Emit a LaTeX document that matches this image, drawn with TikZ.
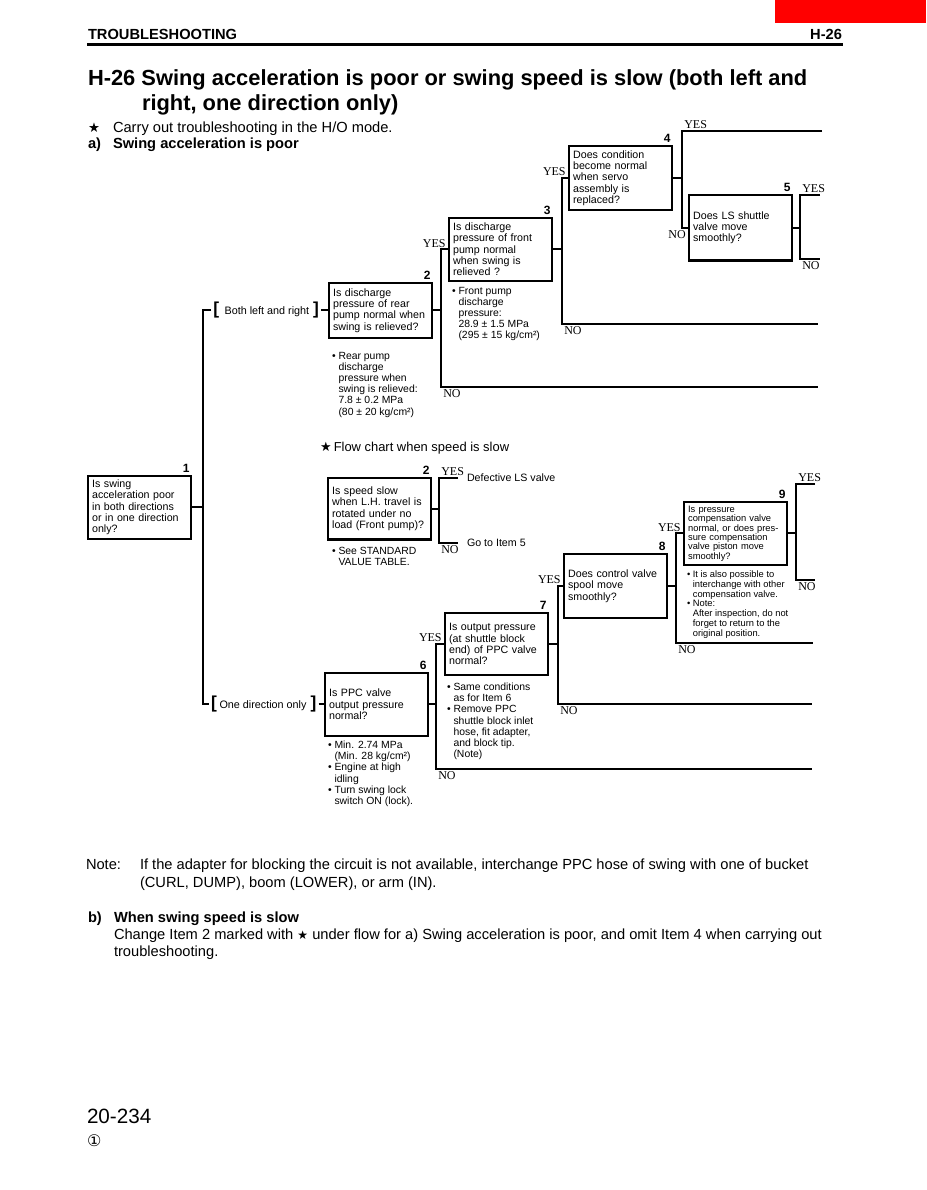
\documentclass[tikz,border=0pt]{standalone}
\usepackage{fontspec}
\setmainfont{Liberation Sans}
\newfontfamily\yesfont{Liberation Serif}
\newfontfamily\symfont{DejaVu Sans}
\usetikzlibrary{positioning}
\newcommand{\blt}{\textbullet\ }
\newcommand{\indt}{\phantom{\textbullet\ }}
\newcommand{\bigbrk}[1]{{\bfseries\fontsize{13}{13}\selectfont #1}}

\begin{document}
\begin{tikzpicture}[x=0.75pt, y=-0.75pt, line width=1.5pt,
  qbox/.style={draw, line width=1.7pt, anchor=north west, align=left, minimum width=77pt, minimum height=47pt,
    text width=71pt, inner xsep=3pt, inner ysep=2pt, font=\fontsize{8}{8.5}\selectfont},
  note/.style={anchor=north west, align=left, inner sep=0pt, font=\fontsize{7.8}{8.4}\selectfont},
  yn/.style={inner sep=1pt, font=\yesfont\fontsize{9}{9}\selectfont},
  num/.style={anchor=south east, inner sep=1pt, font=\bfseries\fontsize{9}{9}\selectfont},
  brk/.style={inner sep=1pt, font=\fontsize{8.1}{9}\selectfont},
  endtxt/.style={anchor=west, inner xsep=6pt, inner ysep=1pt, font=\fontsize{8}{9}\selectfont},
  body/.style={anchor=base west, inner sep=0pt, font=\fontsize{11}{13}\selectfont},
  bodyb/.style={body, font=\bfseries\fontsize{11}{13}\selectfont}
]
\fill[white] (0,0) rectangle (926,1190);
\useasboundingbox (0,0) rectangle (926,1190);
\fill[red] (775,0) rectangle (926,23);

\node[bodyb] (hd) at (87,39.5) {TROUBLESHOOTING};
\node[bodyb, anchor=base east] (hdn) at (843,39.5) {H-26};
\draw[line width=2.6pt] (87,44.7) -- (843,44.7);

\node[body, font=\bfseries\fontsize{16.4}{20}\selectfont] (ttl) at (87,85)
  {H-26 Swing acceleration is poor or swing speed is slow (both left and};
\node[body, font=\bfseries\fontsize{16.4}{20}\selectfont] (ttl2) at (141,110)
  {right, one direction only)};
\node[body] (st) at (87,132) {{\symfont\fontsize{10}{12}\selectfont ★}};
\node[body] (ho) at (112,132) {Carry out troubleshooting in the H/O mode.};
\node[bodyb] (pa) at (87,148) {a)};
\node[bodyb] (pat) at (112,148) {Swing acceleration is poor};

\node[qbox] (q1) at (87,475) {Is swing\\acceleration poor\\in both directions\\or in one direction\\only?};
\node[qbox, minimum height=41pt] (q2) at (328,282) {Is discharge\\pressure of rear\\pump normal when\\swing is relieved?};
\node[qbox] (q3) at (448,217) {Is discharge\\pressure of front\\pump normal\\when swing is\\relieved ?};
\node[qbox, minimum height=48pt] (q4) at (568,145) {Does condition\\become normal\\when servo\\assembly is\\replaced?};
\node[qbox, minimum height=49pt] (q5) at (688,194) {Does LS shuttle\\valve move\\smoothly?};
\node[qbox, minimum height=46pt] (s2) at (327,477) {Is speed slow\\when L.H. travel is\\rotated under no\\load (Front pump)?};
\node[qbox] (q6) at (324,672) {Is PPC valve\\output pressure\\normal?};
\node[qbox, minimum height=46.5pt] (q7) at (444,612) {Is output pressure\\(at shuttle block\\end) of PPC valve\\normal?};
\node[qbox, minimum height=48pt] (q8) at (563,553) {Does control valve\\spool move\\smoothly?};
\node[qbox, font=\fontsize{7}{7}\selectfont] (q9) at (683,501) {Is pressure\\compensation valve\\normal, or does pres-\\sure compensation\\valve piston move\\smoothly?};

\node[num] (k1) at (q1.north east) {1};
\node[num] (k2) at (q2.north east) {2};
\node[num] (k3) at (q3.north east) {3};
\node[num] (k4) at (q4.north east) {4};
\node[num] (k5) at (q5.north east) {5};
\node[num] (k2s) at (s2.north east) {2};
\node[num] (k6) at (q6.north east) {6};
\node[num] (k7) at (q7.north east) {7};
\node[num] (k8) at (q8.north east) {8};
\node[num] (k9) at (q9.north east) {9};

\node[brk, left=5pt of q2] (b1) {\bigbrk{[}\hspace{4pt}Both left and right\hspace{3pt}\bigbrk{]}};
\node[brk, left=4pt of q6] (b2) {\bigbrk{[}\hspace{2pt}One direction only\hspace{3pt}\bigbrk{]}};

\node[note] (n3) at (451,286) {\blt Front pump\\\indt discharge\\\indt pressure:\\\indt 28.9 ± 1.5 MPa\\\indt (295 ± 15 kg/cm²)};
\node[note] (n2) at (331,351) {\blt Rear pump\\\indt discharge\\\indt pressure when\\\indt swing is relieved:\\\indt 7.8 ± 0.2 MPa\\\indt (80 ± 20 kg/cm²)};
\node[note] (ns) at (331,546) {\blt See STANDARD\\\indt VALUE TABLE.};
\node[note] (n6) at (327,740) {\blt Min. 2.74 MPa\\\indt (Min. 28 kg/cm²)\\\blt Engine at high\\\indt idling\\\blt Turn swing lock\\\indt switch ON (lock).};
\node[note] (n7) at (446,682) {\blt Same conditions\\\indt as for Item 6\\\blt Remove PPC\\\indt shuttle block inlet\\\indt hose, fit adapter,\\\indt and block tip.\\\indt (Note)};
\node[note, font=\fontsize{7}{7.3}\selectfont] (n9) at (686,570) {\blt It is also possible to\\\indt interchange with other\\\indt compensation valve.\\\blt Note:\\\indt After inspection, do not\\\indt forget to return to the\\\indt original position.};

\node[anchor=base west, inner sep=0pt, font=\fontsize{9.7}{11}\selectfont] (fch) at (319,451) {{\symfont ★}\,Flow chart when speed is slow};
\node[endtxt] (dls) at (458,478) {Defective LS valve};
\node[endtxt] (gti) at (458,543) {Go to Item 5};

\coordinate (e2no) at (818,387);
\coordinate (e3no) at (818,324);
\coordinate (e4yes) at (822,131);
\coordinate (e5yes) at (820,195);
\coordinate (e5no) at (820,259);
\coordinate (e6no) at (812,769);
\coordinate (e7no) at (812,704);
\coordinate (e8no) at (813,643);
\coordinate (e9yes) at (815,484);
\coordinate (e9no) at (815,580);

\draw (q1.east) -- ++(11,0) coordinate (j1);
\draw (b1.west) -| (j1) |- (b2.west);
\draw (b1.east) -- (q2.west);
\draw (b2.east) -- (q6.west);
\draw (q2.east) -- ++(8,0) coordinate (j2);
\draw (q3.west) -| (j2) |- (e2no);
\draw (q3.east) -- ++(9,0) coordinate (j3);
\draw (q4.west) -| (j3) |- (e3no);
\draw (q4.east) -- ++(9,0) coordinate (j4);
\draw (e4yes) -| (j4) |- (q5.west);
\draw (q5.east) -- ++(7,0) coordinate (j5);
\draw (e5yes) -| (j5) |- (e5no);
\draw (s2.east) -- ++(7,0) coordinate (js);
\draw (dls.west) -| (js) |- (gti.west);
\draw (q6.east) -- ++(7,0) coordinate (j6);
\draw (q7.west) -| (j6) |- (e6no);
\draw (q7.east) -- ++(9,0) coordinate (j7);
\draw (q8.west) -| (j7) |- (e7no);
\draw (q8.east) -- ++(8,0) coordinate (j8);
\draw (q9.west) -| (j8) |- (e8no);
\draw (q9.east) -- ++(8,0) coordinate (j9);
\draw (e9yes) -| (j9) |- (e9no);

\node[yn, anchor=south east] (y3) at (q3.west) {YES};
\node[yn, anchor=south east] (y4) at (q4.west) {YES};
\node[yn, anchor=north east] (o5) at (q5.west) {NO};
\node[yn, anchor=south east] (y7) at (q7.west) {YES};
\node[yn, anchor=south east] (y8) at (q8.west) {YES};
\node[yn, anchor=south east] (y9) at (q9.west) {YES};
\node[yn, anchor=south west] (y4e) at (j4 |- e4yes) {YES};
\node[yn, anchor=south west] (y5e) at (j5 |- e5yes) {YES};
\node[yn, anchor=north west] (o5e) at (j5 |- e5no) {NO};
\node[yn, anchor=north west] (o3e) at (j3 |- e3no) {NO};
\node[yn, anchor=north west] (o2e) at (j2 |- e2no) {NO};
\node[yn, anchor=south west] (yse) at (js |- dls.west) {YES};
\node[yn, anchor=north west] (ose) at (js |- gti.west) {NO};
\node[yn, anchor=north west] (o6e) at (j6 |- e6no) {NO};
\node[yn, anchor=north west] (o7e) at (j7 |- e7no) {NO};
\node[yn, anchor=north west] (o8e) at (j8 |- e8no) {NO};
\node[yn, anchor=south west] (y9e) at (j9 |- e9yes) {YES};
\node[yn, anchor=north west] (o9e) at (j9 |- e9no) {NO};

\node[body] (nt) at (85,869) {Note:};
\node[body] (nt1) at (139,869) {If the adapter for blocking the circuit is not available, interchange PPC hose of swing with one of bucket};
\node[body] (nt2) at (139,887) {(CURL, DUMP), boom (LOWER), or arm (IN).};
\node[bodyb] (pb) at (87,922) {b)};
\node[bodyb] (pbt) at (113,922) {When swing speed is slow};
\node[body] (ch1) at (113,939) {Change Item 2 marked with {\symfont\fontsize{9}{11}\selectfont ★} under flow for a) Swing acceleration is poor, and omit Item 4 when carrying out};
\node[body] (ch2) at (113,956) {troubleshooting.};

\node[body, font=\fontsize{15.5}{18}\selectfont] (pg) at (86,1123) {20-234};
\node[body, font=\symfont\fontsize{12}{14}\selectfont] (rv) at (86,1146) {①};
\end{tikzpicture}
\end{document}
